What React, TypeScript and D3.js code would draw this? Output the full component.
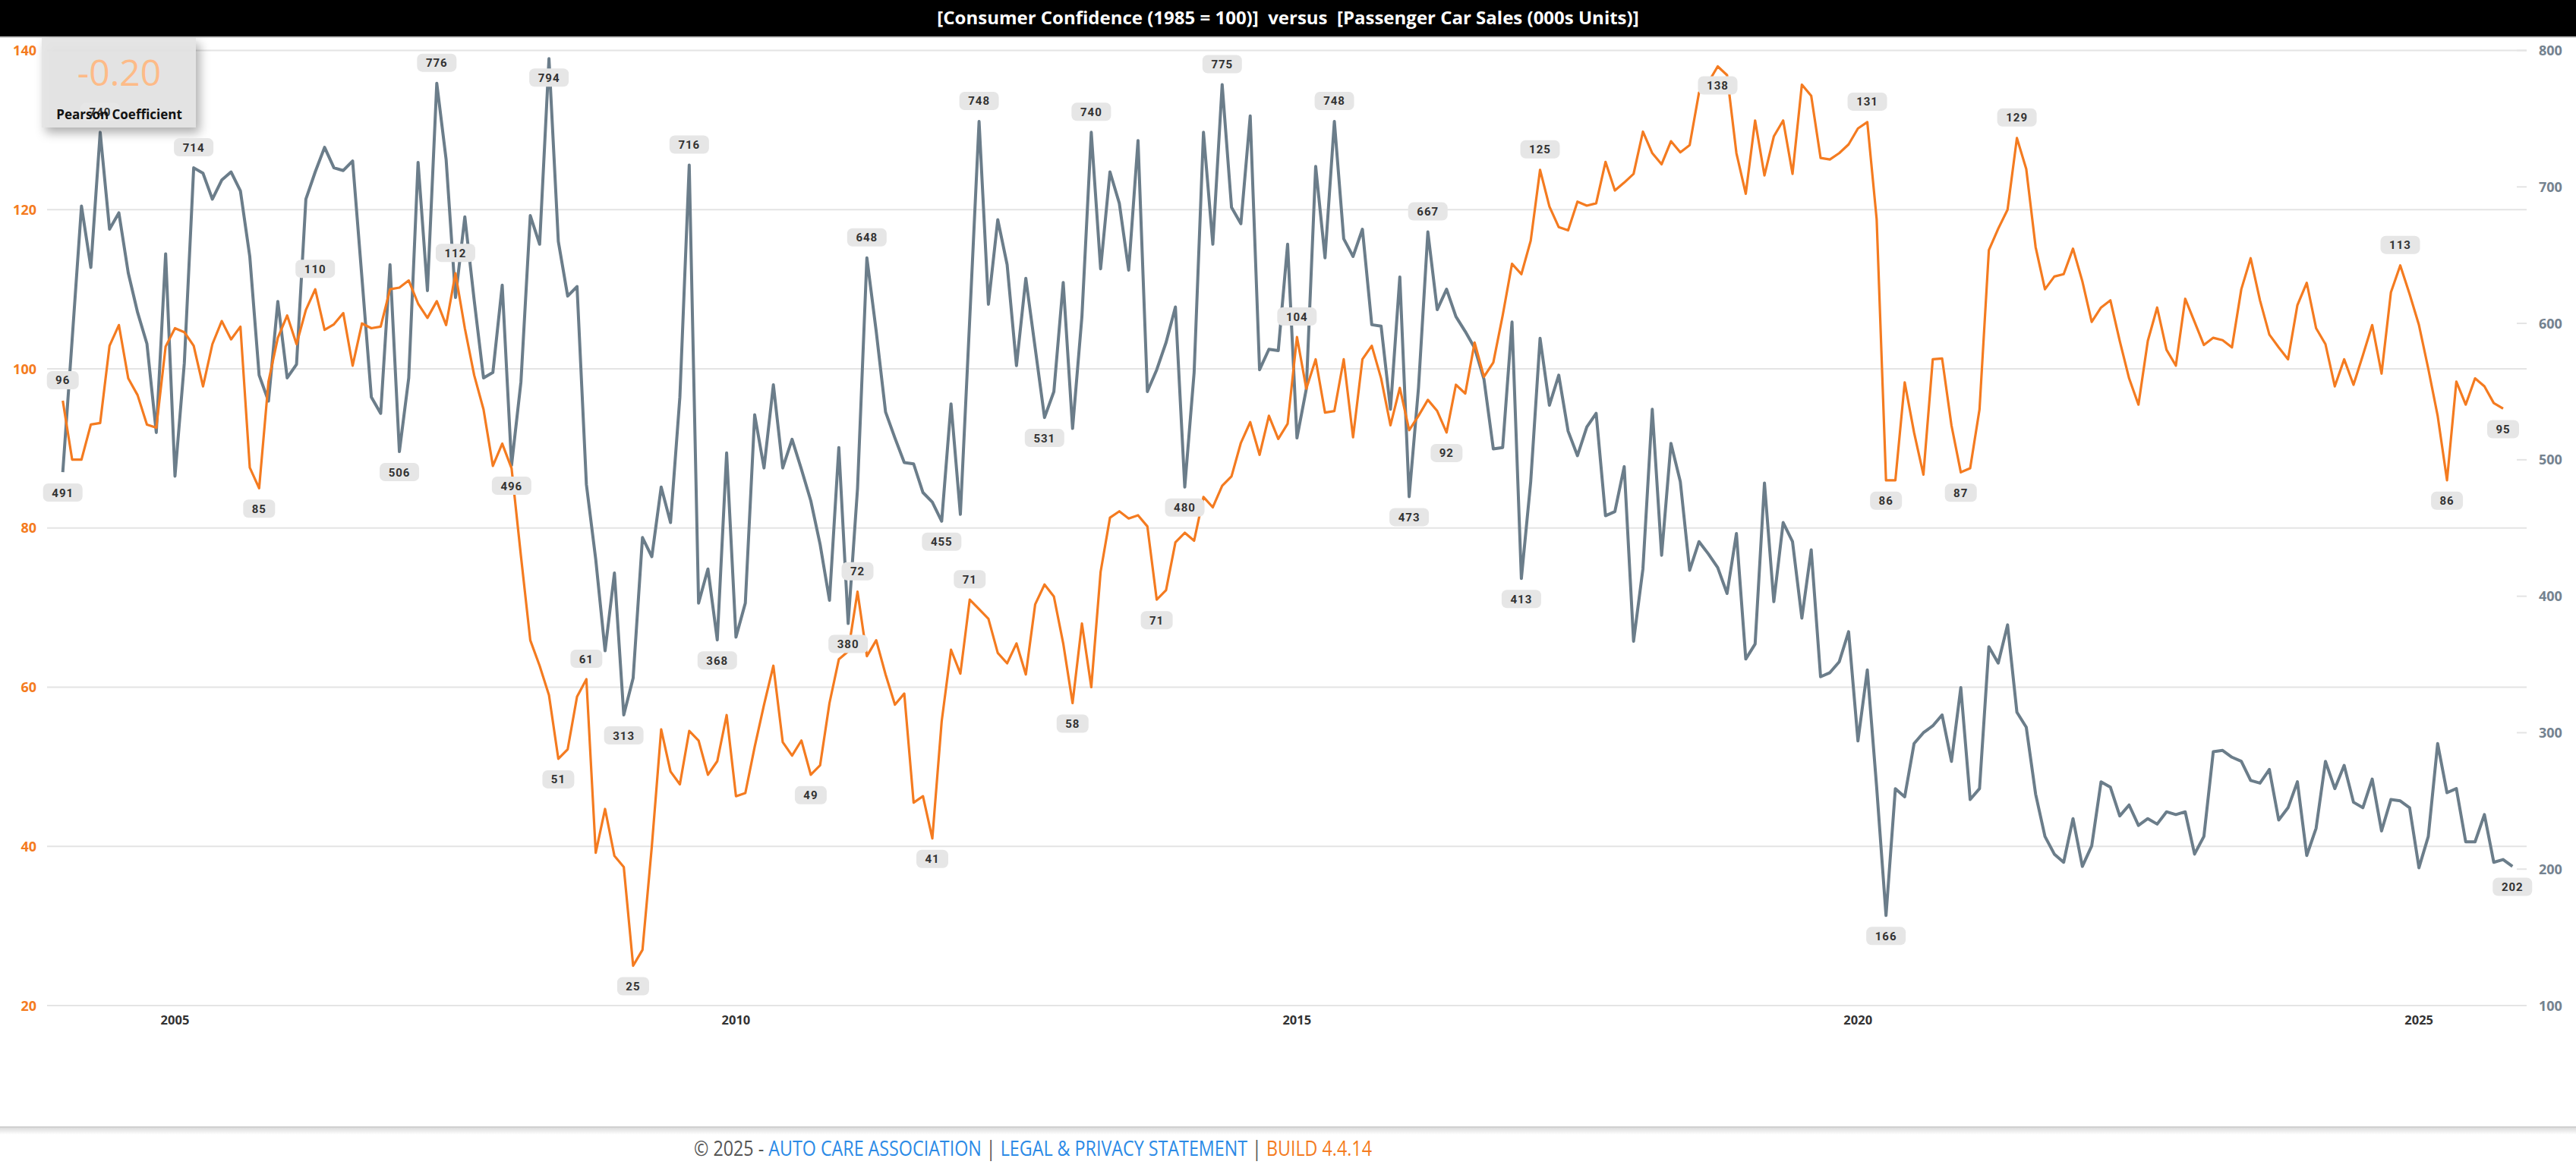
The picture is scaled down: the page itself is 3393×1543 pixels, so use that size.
import React from 'react';
import * as d3 from 'd3';

// ---- DATA ----
const firstYear = 2004; // monthly series, Jan 2004 onwards
const yearTicks = [2005, 2010, 2015, 2020, 2025];
const leftTicks = [20, 40, 60, 80, 100, 120, 140];
const rightTicks = [100, 200, 300, 400, 500, 600, 700, 800];

const confidence = [
  96, 88.6, 88.6, 93, 93.2, 102.9, 105.5, 98.8, 96.7, 93, 92.6, 102.8,
  105.1, 104.6, 102.9, 97.8, 103.1, 106, 103.7, 105.3, 87.6, 85, 98.4, 103.9,
  106.7, 103.1, 107.4, 110, 104.9, 105.6, 107, 100.4, 105.7, 105.1, 105.3, 110,
  110.2, 111.1, 108.2, 106.4, 108.5, 105.5, 112, 105.1, 99.2, 94.9, 87.8, 90.6,
  87.5, 76.5, 65.9, 62.7, 59, 51, 52.2, 58.8, 61, 39.2, 44.7, 38.8,
  37.4, 25, 27, 40, 54.7, 49.4, 47.8, 54.5, 53.3, 49, 50.7, 56.5,
  46.3, 46.7, 52.5, 57.8, 62.7, 53.1, 51.4, 53.3, 49, 50.2, 58, 63.5,
  64.5, 72, 63.9, 65.9, 61.6, 57.8, 59.2, 45.5, 46.3, 41, 55.7, 64.7,
  61.7, 71, 69.8, 68.6, 64.3, 63, 65.5, 61.6, 70.4, 72.9, 71.4, 65.5,
  58, 68, 60, 74.5, 81.3, 82.1, 81.2, 81.6, 80.2, 71, 72.2, 78.2,
  79.4, 78.4, 83.9, 82.6, 85.3, 86.5, 90.7, 93.3, 89.2, 94.1, 91.2, 93.1,
  104, 97.5, 101.2, 94.5, 94.7, 101.2, 91.4, 101.2, 102.9, 98.8, 92.9, 97.6,
  92.3, 94.1, 96.1, 94.7, 92, 98, 96.9, 103.3, 99, 100.8, 106.7, 113.2,
  111.9, 116.1, 125, 120.4, 117.8, 117.4, 121, 120.5, 120.8, 126, 122.4, 123.4,
  124.5, 129.8, 127.1, 125.7, 128.6, 127.2, 128.1, 134.7, 136, 138, 136.9, 127.1,
  122, 131.2, 124.3, 129.2, 131.2, 124.5, 135.7, 134.3, 126.5, 126.3, 127.1, 128.2,
  130.2, 131, 118.8, 86, 86, 98.3, 92, 86.7, 101.2, 101.3, 92.9, 87,
  87.5, 94.9, 114.9, 117.6, 120, 129, 125.1, 115.3, 110, 111.6, 111.9, 115.1,
  111, 105.9, 107.7, 108.6, 103.5, 98.8, 95.5, 103.5, 107.7, 102.4, 100.4, 108.8,
  105.9, 103, 103.9, 103.6, 102.7, 110, 113.9, 108.6, 104.3, 102.7, 101.2, 108,
  110.8, 105.1, 103.1, 97.8, 101.2, 98, 101.7, 105.5, 99.4, 109.6, 113, 109.4,
  105.5, 100, 94.1, 86, 98.4, 95.5, 98.8, 97.8, 95.7, 95,
];

const carSales = [
  491, 588, 686, 641, 740, 669, 681, 637, 608, 585, 520, 651,
  488, 571, 714, 710, 691, 705, 711, 697, 649, 562, 543, 616,
  560, 570, 691, 711, 729, 714, 712, 719, 633, 546, 534, 643,
  506, 560, 718, 624, 776, 720, 619, 678, 617, 560, 564, 628,
  496, 557, 679, 658, 794, 660, 620, 627, 482, 427, 360, 417,
  313, 340, 443, 429, 480, 454, 546, 716, 395, 420, 368, 505,
  370, 395, 533, 494, 555, 494, 515, 493, 470, 438, 397, 509,
  380, 479, 648, 594, 535, 516, 498, 497, 476, 469, 455, 541,
  460, 603, 748, 614, 676, 643, 569, 633, 582, 531, 550, 630,
  523, 605, 740, 640, 711, 688, 639, 734, 550, 566, 586, 612,
  480, 564, 740, 658, 775, 685, 673, 752, 566, 581, 580, 658,
  516, 552, 715, 648, 748, 662, 649, 669, 599, 598, 537, 634,
  473, 553, 667, 610, 625, 605, 594, 582, 559, 508, 509, 601,
  413, 484, 589, 540, 562, 521, 503, 524, 534, 459, 462, 495,
  367, 420, 537, 430, 512, 484, 419, 440, 431, 421, 402, 446,
  354, 365, 483, 396, 454, 440, 384, 434, 341, 344, 352, 374,
  294, 346, 260, 166, 259, 253, 292, 300, 305, 313, 279, 333,
  251, 259, 363, 351, 379, 315, 304, 255, 224, 211, 205, 237,
  202, 217, 264, 260, 239, 247, 232, 237, 233, 242, 240, 242,
  211, 224, 286, 287, 282, 279, 265, 263, 273, 236, 245, 264,
  210, 230, 279, 259, 276, 249, 245, 266, 228, 251, 250, 245,
  201, 224, 292, 256, 259, 220, 220, 240, 205, 207, 202,
];

// months (index into series) that carry a value chip
const confidencePeaks = [0, 27, 42, 56, 85, 97, 132, 158, 177, 193, 209, 250];
const confidenceTroughs = [21, 53, 61, 80, 93, 108, 117, 148, 195, 203, 255, 261];
const salesPeaks = [4, 14, 40, 52, 67, 86, 98, 110, 124, 136, 146];
const salesTroughs = [0, 36, 48, 60, 70, 84, 94, 105, 120, 144, 156, 195, 262];

const titleText = '[Consumer Confidence (1985 = 100)]  versus  [Passenger Car Sales (000s Units)]';
const pearsonValue = '-0.20';

const ORANGE = '#f47b20';
const SLATE = '#6b7d8a';

export default function App() {
  const W = 3393;
  const H = 1543;
  const top = 66.5;
  const bottom = 1325;
  const left = 62;
  const right = 3328;

  const x = d3.scaleLinear().domain([0, carSales.length - 1]).range([82.7, 3309.3]);
  const yL = d3.scaleLinear().domain([20, 140]).range([bottom, top]);
  const yR = d3.scaleLinear().domain([100, 800]).range([bottom, top]);

  const lineL = d3.line<number>().x((_, i) => x(i)).y((d) => yL(d));
  const lineR = d3.line<number>().x((_, i) => x(i)).y((d) => yR(d));

  const chip = (cx: number, py: number, above: boolean, v: number, key: string) => {
    let cy = above ? py - 27 : py + 27;
    if (cy - 12 < top - 5) cy = py + 25; // no room above: sit below the point
    const t = String(Math.round(v));
    const w = 22 + t.length * 10;
    return (
      <g key={key}>
        <rect x={cx - w / 2} y={cy - 12} width={w} height={24} rx={7} fill="#e6e6e6" />
        <text x={cx} y={cy + 5.5} textAnchor="middle" fontFamily="Roboto, sans-serif" fontWeight={700}
          fontSize={15} letterSpacing={1} fill="#333">{t}</text>
      </g>
    );
  };

  const labels: React.ReactNode[] = [];
  confidencePeaks.forEach((i) => labels.push(chip(x(i), yL(confidence[i]), true, confidence[i], 'cp' + i)));
  confidenceTroughs.forEach((i) => labels.push(chip(x(i), yL(confidence[i]), false, confidence[i], 'ct' + i)));
  salesPeaks.forEach((i) => labels.push(chip(x(i), yR(carSales[i]), true, carSales[i], 'sp' + i)));
  salesTroughs.forEach((i) => labels.push(chip(x(i), yR(carSales[i]), false, carSales[i], 'st' + i)));

  return (
    <svg width={W} height={H} style={{ position: 'absolute', left: 0, top: 0, background: '#fff' }}
      fontFamily="'Open Sans', sans-serif">
      <defs>
        <filter id="shadow" x="-20%" y="-20%" width="150%" height="160%">
          <feDropShadow dx="5" dy="7" stdDeviation="7" floodColor="#000" floodOpacity="0.35" />
        </filter>
        <linearGradient id="footShade" x1="0" x2="0" y1="0" y2="1">
          <stop offset="0" stopColor="#d8d8d8" />
          <stop offset="1" stopColor="#ffffff" />
        </linearGradient>
      </defs>

      {/* title bar */}
      <rect x={0} y={0} width={W} height={48} fill="#000" />
      <line x1={0} x2={W} y1={49} y2={49} stroke="#bbb" strokeWidth={1.5} />
      <text x={W / 2} y={32} textAnchor="middle" fill="#fff" fontWeight={700} fontSize={24}
        style={{ whiteSpace: 'pre' }}>{titleText}</text>

      {/* grid */}
      {leftTicks.map((t) => (
        <line key={'g' + t} x1={left} x2={right} y1={yL(t)} y2={yL(t)} stroke="#e4e4e4" strokeWidth={2} />
      ))}
      {rightTicks.map((t) => (
        <line key={'rt' + t} x1={right - 13} x2={right} y1={yR(t)} y2={yR(t)} stroke="#e4e4e4" strokeWidth={2} />
      ))}

      {/* left axis */}
      {leftTicks.map((t) => (
        <text key={'l' + t} x={48} y={yL(t) + 6.5} textAnchor="end" fill={ORANGE} fontWeight={700} fontSize={18}>{t}</text>
      ))}
      {/* right axis */}
      {rightTicks.map((t) => (
        <text key={'r' + t} x={3344} y={yR(t) + 6.5} textAnchor="start" fill="#74828f" fontWeight={700} fontSize={18}>{t}</text>
      ))}
      {/* x axis */}
      {yearTicks.map((yr) => (
        <text key={'x' + yr} x={x((yr - firstYear) * 12)} y={1350} textAnchor="middle" fill="#333"
          fontWeight={700} fontSize={16.5}>{yr}</text>
      ))}

      {/* series */}
      <path d={lineR(carSales) || ''} fill="none" stroke={SLATE} strokeWidth={4} strokeLinejoin="round" />
      <path d={lineL(confidence) || ''} fill="none" stroke={ORANGE} strokeWidth={3.2} strokeLinejoin="round" />

      {/* pearson card */}
      <g filter="url(#shadow)">
        <rect x={55} y={50} width={203} height={118} fill="#e4e4e4" fillOpacity={0.92} />
      </g>
      <text x={157} y={113} textAnchor="middle" fill="#fdbb88" fontSize={48} fontWeight={400}>{pearsonValue}</text>

      {labels}

      <text x={157} y={157} textAnchor="middle" fill="#111" fontWeight={700} fontSize={17}>Pearson Coefficient</text>

      {/* footer */}
      <rect x={0} y={1485} width={W} height={10} fill="url(#footShade)" />
      <line x1={0} x2={W} y1={1485} y2={1485} stroke="#c8c8c8" strokeWidth={1.5} />
      <text x={914} y={1523} fontSize={27} textLength={893} lengthAdjust="spacingAndGlyphs" fill="#555">
        <tspan>© 2025 - </tspan>
        <tspan fill="#2b8ae6">AUTO CARE ASSOCIATION</tspan>
        <tspan> | </tspan>
        <tspan fill="#2b8ae6">LEGAL &amp; PRIVACY STATEMENT</tspan>
        <tspan> | </tspan>
        <tspan fill="#f47b20">BUILD 4.4.14</tspan>
      </text>
    </svg>
  );
}
